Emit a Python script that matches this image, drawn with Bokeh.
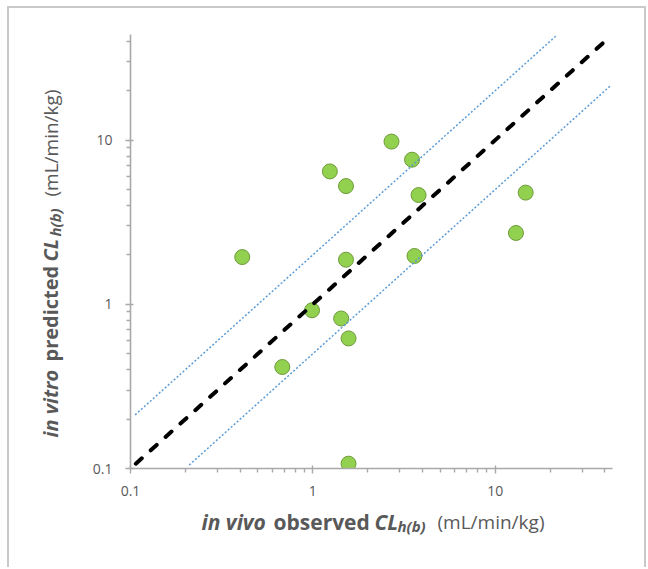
import math
from bokeh.plotting import figure
from bokeh.layouts import row, column
from bokeh.models import Range1d, FixedTicker, Label
from bokeh.embed import file_html
from bokeh.resources import INLINE

# ---- data ----
x_observed = [2.70, 3.50, 1.24, 1.52, 3.80, 14.7, 13.0, 0.41, 1.52, 3.61, 0.99, 1.43, 1.57, 0.68, 1.57]
y_predicted = [9.8, 7.6, 6.45, 5.25, 4.63, 4.79, 2.72, 1.94, 1.87, 1.97, 0.92, 0.82, 0.62, 0.415, 0.107]

unity_x = [0.107, 40.0]
unity_y = [0.107, 40.0]
upper_x = [0.106, 21.5]
upper_y = [0.212, 43.0]
lower_x = [0.21, 43.0]
lower_y = [0.105, 21.5]

major_ticks = [0.1, 1, 10]
tick_labels = ["0.1", "1", "10"]
minor_ticks = [0.2, 0.3, 0.4, 0.5, 0.6, 0.7, 0.8, 0.9, 2, 3, 4, 5, 6, 7, 8, 9, 20, 30, 40]
axis_min, axis_max = 0.1, 44.0

FONT = "Open Sans"
GRAY_AX = "#a9a9a9"
GRAY_TXT = "#595959"

LW = 80            # left strip (y title)
MW, MH = 555, 497  # main plot
BH = 62            # bottom strip (x title)

p = figure(width=MW, height=MH, x_axis_type="log", y_axis_type="log",
           x_range=Range1d(axis_min, axis_max), y_range=Range1d(axis_min, axis_max),
           output_backend="svg", toolbar_location=None,
           min_border_left=38, min_border_right=32, min_border_top=26, min_border_bottom=37)
p.outline_line_color = None
p.xgrid.visible = False
p.ygrid.visible = False
p.background_fill_color = "white"
p.border_fill_color = "white"

overrides = {}
for t, s in zip(major_ticks, tick_labels):
    overrides[t] = s
for ax in (p.xaxis[0], p.yaxis[0]):
    ax.ticker = FixedTicker(ticks=major_ticks, minor_ticks=minor_ticks)
    ax.major_label_overrides = overrides
    ax.axis_line_color = GRAY_AX
    ax.axis_line_width = 1.6
    ax.major_tick_line_color = GRAY_AX
    ax.minor_tick_line_color = GRAY_AX
    ax.major_tick_line_width = 1.4
    ax.minor_tick_line_width = 1.4
    ax.major_tick_out = 5
    ax.major_tick_in = 3
    ax.minor_tick_out = 4
    ax.minor_tick_in = 0
    ax.major_label_text_font = FONT
    ax.major_label_text_font_size = "14px"
    ax.major_label_text_color = GRAY_TXT
    ax.axis_label = None
p.xaxis[0].major_label_standoff = 12
p.yaxis[0].major_label_standoff = 13

# points
p.scatter(x_observed, y_predicted, size=15, fill_color="#92D050",
          line_color="#6E9B3A", line_width=1)

# lines
p.line(upper_x, upper_y, line_color="#5B9BD5", line_width=1.5, line_dash="2 2")
p.line(lower_x, lower_y, line_color="#5B9BD5", line_width=1.5, line_dash="2 2")
p.line(unity_x, unity_y, line_color="black", line_width=4, line_dash="8 12", line_cap="round")


def strip(w, h):
    f = figure(width=w, height=h, output_backend="svg", toolbar_location=None,
               x_range=Range1d(0, 1), y_range=Range1d(0, 1),
               x_axis_location=None, y_axis_location=None, min_border=0)
    f.xgrid.visible = False
    f.ygrid.visible = False
    f.outline_line_color = None
    f.background_fill_color = "white"
    f.border_fill_color = "white"
    return f


# ---- axis titles built from styled pieces ----
TN = "19px"   # normal part
SUB = "15px"  # subscript
bottom = strip(MW, BH)
TBX = "21px"
x_parts = [("in vivo", "bold italic", TBX, 71, 46),
           ("observed", "bold", TBX, 143, 46),
           ("CL", "bold italic", TBX, 244, 46),
           ("h(b)", "bold italic", SUB, 267, 42),
           ("(mL/min/kg)", "normal", TN, 307, 46)]
for txt, style, size, xx, yy in x_parts:
    bottom.add_layout(Label(x=xx, y=yy, x_units="screen", y_units="screen", text=txt,
                            text_font=FONT, text_font_style=style, text_font_size=size,
                            text_color=GRAY_TXT, text_align="left",
                            text_baseline="alphabetic"))

left = strip(LW, MH + BH)
TBY = "20px"
y_parts = [("in vitro", "bold italic", TBY, 41, 130),
           ("predicted", "bold", TBY, 41, 206),
           ("CL", "bold italic", TBY, 41, 306),
           ("h(b)", "bold italic", SUB, 45, 331),
           ("(mL/min/kg)", "normal", TN, 41, 371)]
for txt, style, size, xx, yy in y_parts:
    left.add_layout(Label(x=xx, y=yy, x_units="screen", y_units="screen", text=txt,
                          angle=math.pi / 2, text_font=FONT, text_font_style=style,
                          text_font_size=size, text_color=GRAY_TXT, text_align="left",
                          text_baseline="alphabetic"))

layout = row(left, column(p, bottom, spacing=0), spacing=0)
layout.styles = {"margin-left": "7px", "margin-top": "6px",
                 "border-top": "2px solid #c9c9c9", "border-left": "2px solid #c9c9c9",
                 "border-right": "2px solid #c9c9c9"}

open("out.html", "w").write(file_html(layout, INLINE))
